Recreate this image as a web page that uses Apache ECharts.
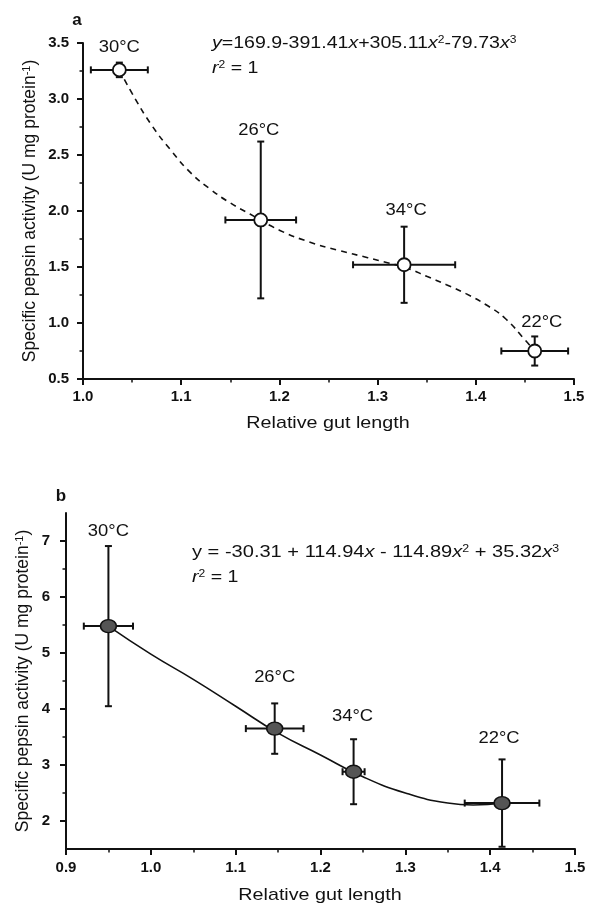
<!DOCTYPE html>
<html><head><meta charset="utf-8">
<script src="https://cdn.jsdelivr.net/npm/echarts@6/dist/echarts.min.js"></script>
<style>html,body{margin:0;padding:0;background:#fff}#c{width:589px;height:904px}</style>
</head><body><div id="c"></div>
<script>
// ---------- Panel a data ----------
const tempLabelsA = ['30°C', '26°C', '34°C', '22°C'];
const gutA = [1.037, 1.181, 1.327, 1.460];
const pepsinA = [3.26, 1.92, 1.52, 0.75];
const gutErrA = [0.029, 0.036, 0.052, 0.034];
const pepsinErrA = [0.065, 0.70, 0.34, 0.13];
const fitGutA = [1.037, 1.05, 1.07, 1.09, 1.11, 1.13, 1.15, 1.17, 1.20, 1.23, 1.26, 1.29, 1.31, 1.33, 1.35, 1.37, 1.39, 1.41, 1.43, 1.45, 1.46];
const fitPepsinA = [3.26, 3.05, 2.765, 2.537, 2.338, 2.192, 2.072, 1.973, 1.829, 1.725, 1.649, 1.583, 1.538, 1.49, 1.417, 1.342, 1.262, 1.165, 1.04, 0.85, 0.75];
const eqA = '{i|y}=169.9-391.41{i|x}+305.11{i|x}{s|2}-79.73{i|x}{s|3}';

// ---------- Panel b data ----------
const tempLabelsB = ['30°C', '26°C', '34°C', '22°C'];
const gutB = [0.950, 1.146, 1.239, 1.414];
const pepsinB = [5.48, 3.65, 2.88, 2.32];
const gutErrB = [0.029, 0.034, 0.013, 0.044];
const pepsinErrB = [1.43, 0.45, 0.58, 0.78];
const fitGutB = [0.950, 1.00, 1.05, 1.10, 1.15, 1.20, 1.25, 1.30, 1.35, 1.38, 1.414];
const fitPepsinB = [5.48, 4.98, 4.53, 4.05, 3.57, 3.18, 2.79, 2.50, 2.32, 2.285, 2.317];
const eqB = '{n|y = -30.31 + 114.94}{i|x}{n| - 114.89}{i|x}{s|2}{n| + 35.32}{i|x}{s|3}';

const yMajorB = [2, 3, 4, 5, 6, 7];
const yMinorB = [2.5, 3.5, 4.5, 5.5, 6.5];

// ---------- styling ----------
const FONT = '"Liberation Sans", Arial, Helvetica, sans-serif';
const INK = '#111';
const labelOffA = [[0, 15], [-2, 11], [2, 16], [7, 14]];
const labelOffB = [[0, 14], [0, 26], [-1, 23], [-3, 21]];

function errRender(labels, offs) {
  return function (params, api) {
    const i = params.dataIndex;
    const x = api.value(0), y = api.value(1), dx = api.value(2), dy = api.value(3);
    const L = api.coord([x - dx, y]), R = api.coord([x + dx, y]);
    const T = api.coord([x, y + dy]), B = api.coord([x, y - dy]);
    const c = 3.5;
    const st = { stroke: INK, lineWidth: 2 };
    const ln = (x1, y1, x2, y2) => ({ type: 'line', shape: { x1, y1, x2, y2 }, style: st });
    return {
      type: 'group',
      children: [
        ln(L[0], L[1], R[0], R[1]), ln(L[0], L[1] - c, L[0], L[1] + c), ln(R[0], R[1] - c, R[0], R[1] + c),
        ln(T[0], T[1], B[0], B[1]), ln(T[0] - c, T[1], T[0] + c, T[1]), ln(B[0] - c, B[1], B[0] + c, B[1]),
        {
          type: 'text', x: T[0] + offs[i][0], y: T[1] - offs[i][1], scaleX: 1.15,
          style: { text: labels[i], fontSize: 16, fontFamily: FONT, fill: INK,
                   align: 'center', verticalAlign: 'middle', textAlign: 'center', textVerticalAlign: 'middle' }
        }
      ]
    };
  };
}

function axisCommon() {
  return {
    axisLine: { show: true, onZero: false, lineStyle: { color: INK, width: 2 } },
    axisTick: { show: true, inside: false, length: 6, lineStyle: { color: INK, width: 2 } },
    minorTick: { show: true, splitNumber: 2, length: 3.5, lineStyle: { color: INK, width: 1.5 } },
    splitLine: { show: false },
    minorSplitLine: { show: false },
    axisLabel: { color: INK, fontWeight: 'bold', fontSize: 15, fontFamily: FONT }
  };
}

const chart = echarts.init(document.getElementById('c'), null, { renderer: 'canvas' });

const xA = Object.assign(axisCommon(), { gridIndex: 0, type: 'value', min: 1.0, max: 1.5, interval: 0.1 });
xA.axisLabel = Object.assign(xA.axisLabel, { margin: 10, formatter: v => v.toFixed(1) });
const yA = Object.assign(axisCommon(), { gridIndex: 0, type: 'value', min: 0.5, max: 3.5, interval: 0.5 });
yA.axisLabel = Object.assign(yA.axisLabel, { margin: 14, formatter: v => v.toFixed(1) });

const xB = Object.assign(axisCommon(), { gridIndex: 1, type: 'value', min: 0.9, max: 1.5, interval: 0.1 });
xB.axisLabel = Object.assign(xB.axisLabel, { margin: 11, formatter: v => v.toFixed(1) });
const yB = Object.assign(axisCommon(), { gridIndex: 1, type: 'value', min: 1.5, max: 7.5, position: 'left' });
yB.minorTick = { show: false };
yB.axisTick = Object.assign(yB.axisTick, { customValues: yMajorB });
yB.axisLabel = Object.assign(yB.axisLabel, { margin: 16, customValues: yMajorB, formatter: v => String(Math.round(v)) });
const yB2 = {
  gridIndex: 1, type: 'value', min: 1.5, max: 7.5, position: 'left', offset: 0,
  axisLine: { show: false },
  axisTick: { show: true, inside: false, length: 3.5, customValues: yMinorB, lineStyle: { color: INK, width: 1.5 } },
  axisLabel: { show: false, customValues: yMinorB },
  splitLine: { show: false }
};

const titleStyle = (txt, size) => ({
  text: txt, fontSize: size, fontFamily: FONT, fill: INK,
  align: 'center', verticalAlign: 'middle', textAlign: 'center', textVerticalAlign: 'middle'
});

const yTitleRich = {
  t: { fontSize: 17.5, fontFamily: FONT, fill: INK },
  s: { fontSize: 11, fontFamily: FONT, fill: INK, verticalAlign: 'top' }
};
const eqRich = {
  n: { fontSize: 17, fontFamily: FONT, fill: INK },
  i: { fontSize: 17, fontFamily: FONT, fill: INK, fontStyle: 'italic' },
  s: { fontSize: 10.5, fontFamily: FONT, fill: INK, verticalAlign: 'top' }
};

const option = {
  backgroundColor: '#fff',
  animation: false,
  grid: [
    { left: 83, right: 15, top: 43, height: 336, containLabel: false, outerBoundsMode: 'none' },
    { left: 66, right: 14, top: 513, height: 336, containLabel: false, outerBoundsMode: 'none' }
  ],
  xAxis: [xA, xB],
  yAxis: [yA, yB, yB2],
  series: [
    {
      type: 'line', xAxisIndex: 0, yAxisIndex: 0, z: 2, silent: true,
      data: fitGutA.map((x, i) => [x, fitPepsinA[i]]),
      showSymbol: false, symbol: 'none', smooth: 0.5,
      lineStyle: { color: INK, width: 1.6, type: [6, 5] }
    },
    {
      type: 'custom', xAxisIndex: 0, yAxisIndex: 0, z: 3, silent: true, clip: false,
      data: gutA.map((x, i) => [x, pepsinA[i], gutErrA[i], pepsinErrA[i]]),
      encode: { x: 0, y: 1 },
      renderItem: errRender(tempLabelsA, labelOffA)
    },
    {
      type: 'scatter', xAxisIndex: 0, yAxisIndex: 0, z: 4, silent: true,
      data: gutA.map((x, i) => [x, pepsinA[i]]),
      symbol: 'circle', symbolSize: 13,
      itemStyle: { color: '#fff', borderColor: INK, borderWidth: 1.8, opacity: 1 }
    },
    {
      type: 'line', xAxisIndex: 1, yAxisIndex: 1, z: 2, silent: true,
      data: fitGutB.map((x, i) => [x, fitPepsinB[i]]),
      showSymbol: false, symbol: 'none', smooth: 0.5,
      lineStyle: { color: INK, width: 1.6 }
    },
    {
      type: 'custom', xAxisIndex: 1, yAxisIndex: 1, z: 3, silent: true, clip: false,
      data: gutB.map((x, i) => [x, pepsinB[i], gutErrB[i], pepsinErrB[i]]),
      encode: { x: 0, y: 1 },
      renderItem: errRender(tempLabelsB, labelOffB)
    },
    {
      type: 'scatter', xAxisIndex: 1, yAxisIndex: 1, z: 4, silent: true,
      data: gutB.map((x, i) => [x, pepsinB[i]]),
      symbol: 'circle', symbolSize: [16, 13],
      itemStyle: { color: '#555', borderColor: INK, borderWidth: 1.5, opacity: 1 }
    }
  ],
  graphic: [
    { type: 'text', x: 77, y: 20, style: Object.assign(titleStyle('a', 17), { fontWeight: 'bold' }) },
    { type: 'text', x: 61, y: 496, style: Object.assign(titleStyle('b', 17), { fontWeight: 'bold' }) },
    { type: 'text', x: 212, y: 43, scaleX: 1.15,
      style: { text: eqA, rich: eqRich, fontSize: 17, fontFamily: FONT, fill: INK, verticalAlign: 'middle', textVerticalAlign: 'middle' } },
    { type: 'text', x: 212, y: 68, scaleX: 1.15,
      style: { text: '{i|r}{s|2}{n| = 1}', rich: eqRich, fontSize: 17, fontFamily: FONT, fill: INK, verticalAlign: 'middle', textVerticalAlign: 'middle' } },
    { type: 'text', x: 192, y: 552, scaleX: 1.18,
      style: { text: eqB, rich: eqRich, fontSize: 17, fontFamily: FONT, fill: INK, verticalAlign: 'middle', textVerticalAlign: 'middle' } },
    { type: 'text', x: 192, y: 577, scaleX: 1.15,
      style: { text: '{i|r}{s|2}{n| = 1}', rich: eqRich, fontSize: 17, fontFamily: FONT, fill: INK, verticalAlign: 'middle', textVerticalAlign: 'middle' } },
    { type: 'text', x: 328, y: 423, scaleX: 1.16, style: titleStyle('Relative gut length', 17) },
    { type: 'text', x: 320, y: 895, scaleX: 1.16, style: titleStyle('Relative gut length', 17) },
    { type: 'text', x: 30, y: 211, rotation: Math.PI / 2,
      style: { text: '{t|Specific pepsin activity (U mg protein}{s|-1}{t|)}', rich: yTitleRich, fontSize: 17.5, fontFamily: FONT, fill: INK,
               align: 'center', verticalAlign: 'middle', textAlign: 'center', textVerticalAlign: 'middle' } },
    { type: 'text', x: 23, y: 681, rotation: Math.PI / 2,
      style: { text: '{t|Specific pepsin activity (U mg protein}{s|-1}{t|)}', rich: yTitleRich, fontSize: 17.5, fontFamily: FONT, fill: INK,
               align: 'center', verticalAlign: 'middle', textAlign: 'center', textVerticalAlign: 'middle' } }
  ]
};
chart.setOption(option);
</script>
</body></html>
